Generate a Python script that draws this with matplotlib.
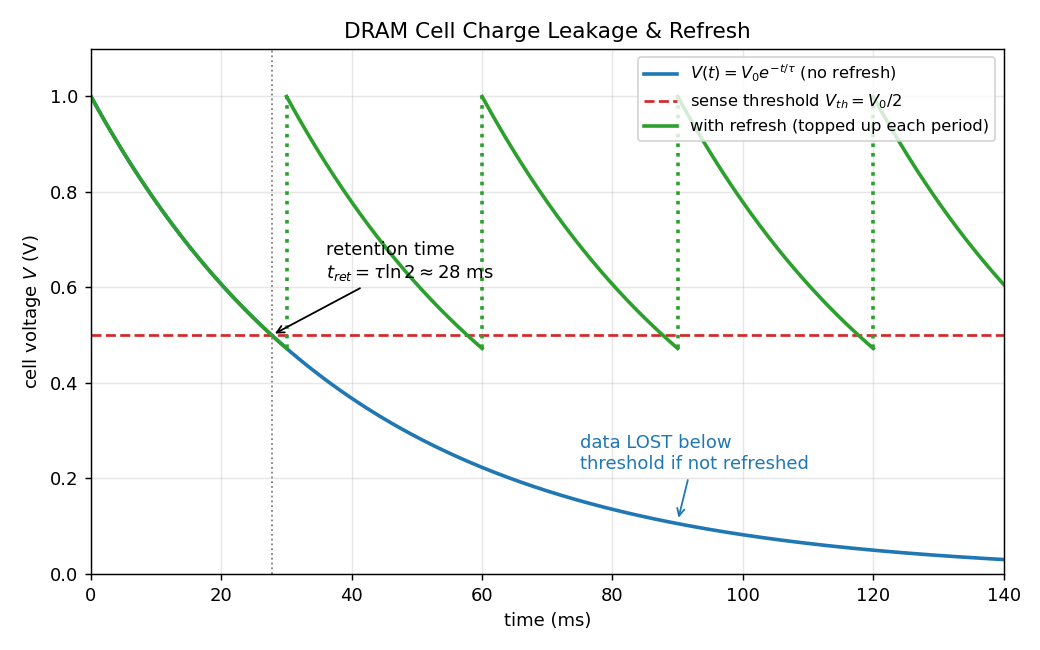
import numpy as np
import matplotlib
matplotlib.use("Agg")
import matplotlib.pyplot as plt

# model parameters
V0 = 1.0          # initial cell voltage (V)
tau = 40.0        # leakage time constant (ms)
V_th = 0.5        # sense threshold (V)
T_refresh = 30.0  # refresh period (ms)
t_max = 140.0
refresh_times = [30, 60, 90, 120]

t = np.linspace(0, t_max, 700)
v_leak = V0 * np.exp(-t / tau)
t_ret = tau * np.log(2)

fig, ax = plt.subplots(figsize=(8, 5), dpi=130)

ax.plot(t, v_leak, color="#1f77b4", lw=2, label=r"$V(t) = V_0 e^{-t/\tau}$ (no refresh)")
ax.axhline(V_th, color="#d62728", ls="--", lw=1.5, label=r"sense threshold $V_{th} = V_0/2$")

# refreshed cell: decays, then gets topped up each period
starts = [0] + refresh_times
for i, s in enumerate(starts):
    e = min(s + T_refresh, t_max)
    ts = np.linspace(s, e, 200)
    vs = V0 * np.exp(-(ts - s) / tau)
    ax.plot(ts, vs, color="#2ca02c", lw=2,
            label="with refresh (topped up each period)" if i == 0 else None)
for r in refresh_times:
    low = V0 * np.exp(-T_refresh / tau)
    ax.plot([r, r], [low, V0], color="#2ca02c", ls=":", lw=2)

ax.axvline(t_ret, color="gray", ls=":", lw=1)

ax.annotate("retention time\n" + r"$t_{ret} = \tau \ln 2 \approx 28$ ms",
            xy=(t_ret, V_th), xytext=(36, 0.62), fontsize=10,
            arrowprops=dict(arrowstyle="->", color="black", lw=1))
ax.annotate("data LOST below\nthreshold if not refreshed",
            xy=(90, V0 * np.exp(-90 / tau) + 0.005), xytext=(75, 0.22),
            fontsize=10, color="#1f77b4",
            arrowprops=dict(arrowstyle="->", color="#1f77b4", lw=1))

ax.set_xlim(0, t_max)
ax.set_ylim(0, 1.1)
ax.set_xlabel("time (ms)")
ax.set_ylabel(r"cell voltage $V$ (V)")
ax.set_title("DRAM Cell Charge Leakage & Refresh", fontsize=12)
ax.grid(True, alpha=0.3)
ax.legend(loc="upper right", fontsize=9)

plt.subplots_adjust(left=0.0875, right=0.965, top=0.925, bottom=0.117)
plt.savefig("out.png")
